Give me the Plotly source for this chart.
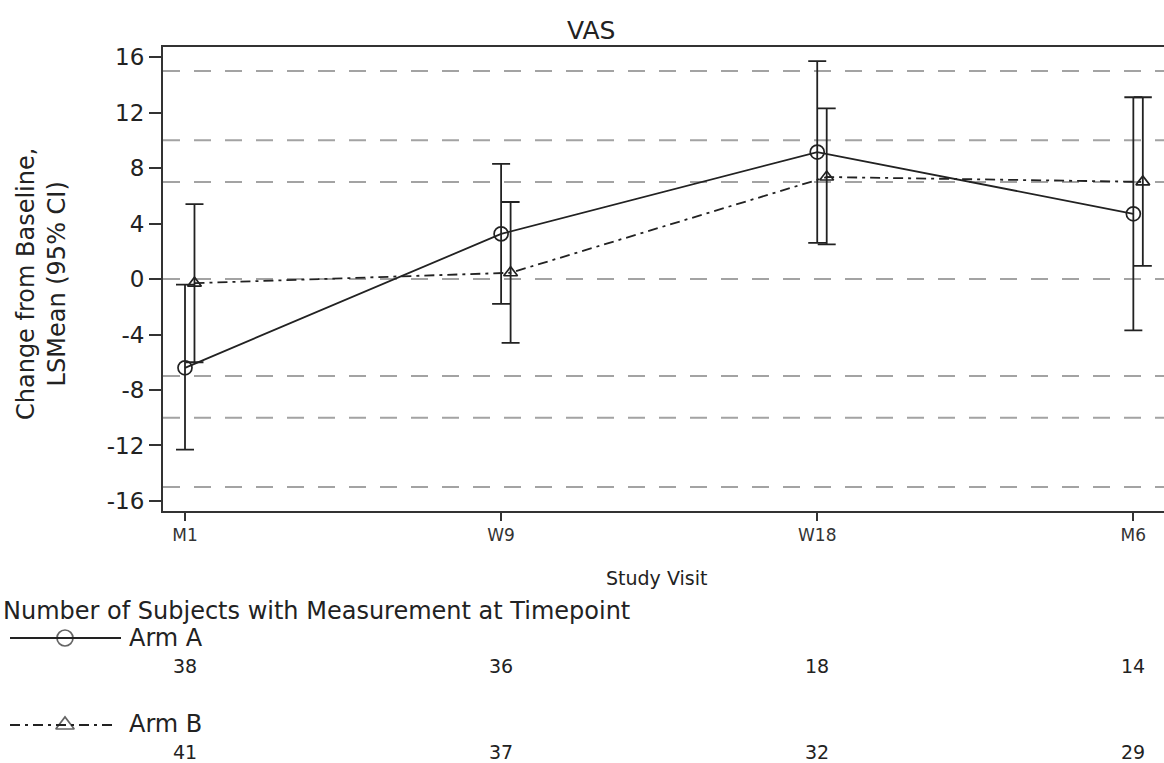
import plotly.graph_objects as go

# Visits and per-arm LS mean change from baseline with 95% CI
visits = ["M1", "W9", "W18", "M6"]
arm_a_mean = [-6.4, 3.25, 9.15, 4.7]
arm_a_lower = [-12.3, -1.8, 2.6, -3.7]
arm_a_upper = [-0.4, 8.3, 15.7, 13.1]
arm_b_mean = [-0.3, 0.45, 7.35, 7.0]
arm_b_lower = [-6.0, -4.6, 2.5, 0.95]
arm_b_upper = [5.4, 5.55, 12.3, 13.1]

# Subjects with a measurement at each visit
arm_a_n = [38, 36, 18, 14]
arm_b_n = [41, 37, 32, 29]

# Horizontal reference levels
ref_levels = [15, 10, 7, 0, -7, -10, -15]
y_ticks = [-16, -12, -8, -4, 0, 4, 8, 12, 16]

W, H = 1164, 763
FONT = "DejaVu Sans"
INK = "#222222"
B_SHIFT = 0.03  # horizontal dodge for Arm B
DASHDOT = "10px,5px,3px,5px"

xa = list(range(len(visits)))
xb = [v + B_SHIFT for v in xa]


def px_x(p):
    return p / W


def px_y(p):
    return 1 - p / H


fig = go.Figure()

fig.add_trace(go.Scatter(
    x=xa, y=arm_a_mean, mode="lines+markers", name="Arm A",
    line=dict(color=INK, width=1.8),
    marker=dict(symbol="circle-open", size=14, color=INK, line=dict(width=1.7)),
    error_y=dict(type="data", symmetric=False,
                 array=[u - m for u, m in zip(arm_a_upper, arm_a_mean)],
                 arrayminus=[m - l for m, l in zip(arm_a_mean, arm_a_lower)],
                 color=INK, thickness=1.8, width=9),
    showlegend=False,
))
fig.add_trace(go.Scatter(
    x=xb, y=arm_b_mean, mode="lines+markers", name="Arm B",
    line=dict(color=INK, width=1.8, dash=DASHDOT),
    marker=dict(symbol="triangle-up-open", size=12, color=INK, line=dict(width=1.7)),
    error_y=dict(type="data", symmetric=False,
                 array=[u - m for u, m in zip(arm_b_upper, arm_b_mean)],
                 arrayminus=[m - l for m, l in zip(arm_b_mean, arm_b_lower)],
                 color=INK, thickness=1.8, width=9),
    showlegend=False,
))

# reference lines behind the data
for lv in ref_levels:
    fig.add_shape(type="line", xref="x domain", yref="y", x0=0, x1=1, y0=lv, y1=lv,
                  line=dict(color="#a3a3a3", width=2, dash="17px,14px"), layer="below")

# legend samples drawn on a hidden pixel-scaled axis
legend_rows = [("Arm A", 638, 121, "solid", "circle-open", 16),
               ("Arm B", 725, 115, DASHDOT, "triangle-up-open", 16)]
for label, yp, xend, dash, sym, msz in legend_rows:
    fig.add_trace(go.Scatter(
        x=[10, 65, xend], y=[yp, yp, yp], xaxis="x2", yaxis="y2", mode="lines+markers",
        line=dict(color=INK, width=1.8, dash=dash),
        marker=dict(symbol=sym, size=[0, msz, 0], color=INK, line=dict(width=1.7)),
        showlegend=False, hoverinfo="skip",
    ))


def note(text, x, y, xanchor="center", size=20, **kw):
    d = dict(text=text, x=x, y=y, xref=kw.pop("xref", "paper"), yref="paper",
             xanchor=xanchor, yanchor="middle", showarrow=False,
             font=dict(size=size, color=INK))
    d.update(kw)
    return d


annotations = [
    note("VAS", px_x(591), px_y(30), size=25),
    note("Change from Baseline,<br>LSMean (95% CI)", px_x(41), px_y(284), size=24,
         textangle=-90),
    note("Study Visit", px_x(656), px_y(578), size=19),
    note("Number of Subjects with Measurement at Timepoint", px_x(1), px_y(611),
         xanchor="left", size=24),
    note("Arm A", px_x(127), px_y(638), xanchor="left", size=24),
    note("Arm B", px_x(127), px_y(724), xanchor="left", size=24),
]
for xi, n in zip(xa, arm_a_n):
    annotations.append(note(str(n), xi, px_y(666), size=19, xref="x"))
for xi, n in zip(xa, arm_b_n):
    annotations.append(note(str(n), xi, px_y(752), size=19, xref="x"))

fig.update_layout(
    width=W, height=H,
    margin=dict(l=0, r=0, t=0, b=0),
    paper_bgcolor="white", plot_bgcolor="rgba(0,0,0,0)",
    font=dict(family=FONT, color=INK),
    showlegend=False,
    annotations=annotations,
    xaxis=dict(
        domain=[163 / W, 1], range=[-0.0696, 3.097],
        tickvals=xa, ticktext=visits, tickfont=dict(size=17, color="#333333"),
        ticks="outside", ticklen=8, tickwidth=1.5, tickcolor="#333333",
        showline=True, linecolor="#333333", linewidth=2, mirror=True,
        showgrid=False, zeroline=False, automargin=False,
    ),
    yaxis=dict(
        domain=[1 - 510.7 / H, 1 - 47.3 / H], range=[-16.7, 16.7],
        tickvals=y_ticks, ticktext=[str(v) for v in y_ticks],
        tickfont=dict(size=23, color=INK),
        ticks="outside", ticklen=12, tickwidth=1.5, tickcolor="#333333",
        showline=True, linecolor="#333333", linewidth=2,
        showgrid=False, zeroline=False, automargin=False,
    ),
    xaxis2=dict(domain=[0, 1], range=[0, W], visible=False, fixedrange=True),
    yaxis2=dict(domain=[0, 1], range=[H, 0], visible=False, fixedrange=True,
                anchor="x2"),
)

fig.write_html("out.html")
